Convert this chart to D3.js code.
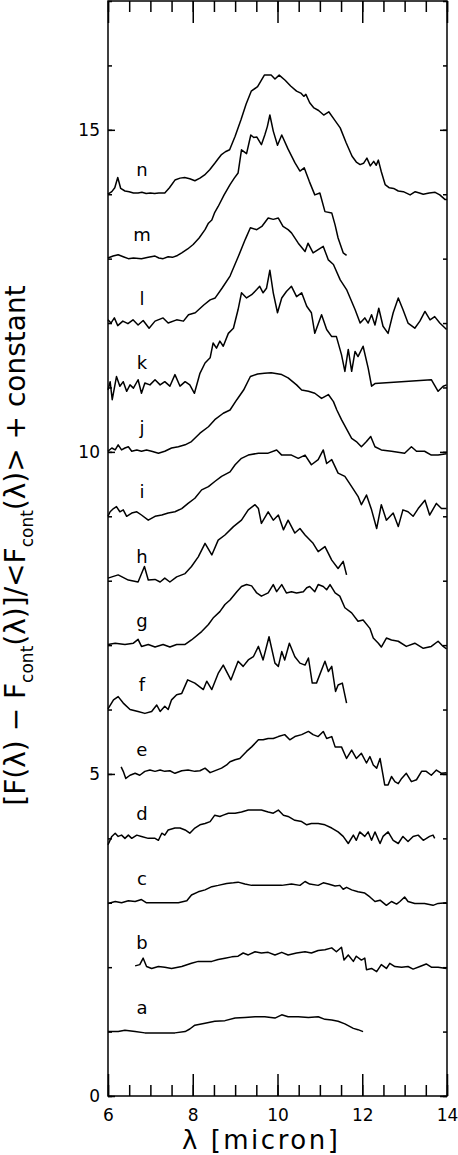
<!DOCTYPE html>
<html>
<head>
<meta charset="utf-8">
<script src="https://cdn.jsdelivr.net/npm/d3@7"></script>
<style>
  body { margin: 0; background: #fff; }
  svg text { font-family: "DejaVu Sans", sans-serif; fill: #000; }
</style>
</head>
<body>
<svg id="chart" width="458" height="1155"></svg>
<script>
// each spectrum: [wavelength (micron), flux above its own baseline]
const specA = [[6.00,0.00],[6.24,0.00],[6.40,0.02],[6.64,0.00],[6.87,-0.02],[7.11,-0.02],[7.34,-0.02],[7.58,-0.02],[7.82,0.00],[7.93,0.04],[8.05,0.10],[8.29,0.13],[8.52,0.16],[8.76,0.17],[9.00,0.21],[9.23,0.22],[9.47,0.23],[9.70,0.23],[9.94,0.21],[10.10,0.26],[10.25,0.23],[10.49,0.23],[10.73,0.22],[10.96,0.23],[11.12,0.19],[11.28,0.18],[11.43,0.16],[11.59,0.12],[11.79,0.05],[11.90,0.03],[12.02,0.00]];
const specB = [[6.64,0.02],[6.75,0.04],[6.83,0.14],[6.91,0.01],[7.03,-0.02],[7.19,0.01],[7.34,0.00],[7.50,-0.02],[7.74,0.01],[7.97,0.06],[8.13,0.09],[8.29,0.09],[8.45,0.09],[8.60,0.12],[8.76,0.14],[8.92,0.16],[9.07,0.17],[9.19,0.22],[9.31,0.19],[9.47,0.24],[9.62,0.22],[9.78,0.23],[9.94,0.19],[10.10,0.23],[10.25,0.19],[10.45,0.22],[10.65,0.24],[10.80,0.22],[10.96,0.26],[11.12,0.27],[11.28,0.30],[11.39,0.24],[11.51,0.31],[11.57,0.11],[11.67,0.19],[11.79,0.09],[11.86,0.17],[11.98,0.11],[12.06,0.14],[12.10,-0.04],[12.22,-0.02],[12.34,-0.07],[12.45,0.04],[12.57,-0.02],[12.65,0.06],[12.77,0.01],[12.93,0.00],[13.08,0.01],[13.20,-0.03],[13.36,0.01],[13.51,0.05],[13.63,0.00],[13.79,0.00],[13.99,-0.02]];
const specC = [[6.00,-0.01],[6.17,0.02],[6.32,0.00],[6.48,0.03],[6.64,0.02],[6.79,0.05],[6.91,0.00],[7.11,0.00],[7.34,0.00],[7.66,0.00],[7.86,0.03],[7.97,0.12],[8.13,0.17],[8.29,0.20],[8.45,0.25],[8.60,0.27],[8.80,0.30],[8.96,0.31],[9.07,0.32],[9.23,0.29],[9.39,0.27],[9.62,0.27],[9.86,0.27],[10.10,0.27],[10.33,0.29],[10.53,0.27],[10.65,0.33],[10.76,0.29],[10.96,0.27],[11.08,0.31],[11.20,0.29],[11.36,0.26],[11.47,0.27],[11.55,0.21],[11.63,0.24],[11.75,0.20],[11.90,0.17],[12.06,0.15],[12.18,0.09],[12.30,0.02],[12.42,0.04],[12.57,-0.04],[12.69,0.02],[12.81,-0.02],[12.89,0.02],[13.00,0.09],[13.08,0.02],[13.24,-0.01],[13.47,-0.01],[13.67,-0.04],[13.79,-0.01],[13.99,0.00]];
const specD = [[6.00,-0.10],[6.09,0.03],[6.17,0.08],[6.24,0.03],[6.32,0.05],[6.40,0.00],[6.48,0.05],[6.56,0.00],[6.68,0.05],[6.79,0.03],[6.95,0.00],[7.11,0.00],[7.19,-0.03],[7.27,0.08],[7.34,0.05],[7.42,0.13],[7.58,0.16],[7.70,0.16],[7.82,0.13],[7.93,0.08],[8.05,0.16],[8.17,0.21],[8.29,0.23],[8.41,0.26],[8.52,0.36],[8.64,0.34],[8.72,0.36],[8.84,0.39],[9.00,0.39],[9.15,0.41],[9.31,0.44],[9.47,0.44],[9.62,0.44],[9.78,0.41],[9.90,0.39],[10.02,0.44],[10.14,0.36],[10.25,0.34],[10.41,0.28],[10.57,0.26],[10.69,0.21],[10.80,0.23],[10.96,0.23],[11.12,0.21],[11.28,0.16],[11.43,0.10],[11.55,0.03],[11.67,-0.08],[11.79,0.05],[11.86,-0.03],[11.94,0.10],[12.06,0.03],[12.14,0.10],[12.22,-0.03],[12.30,0.10],[12.42,-0.08],[12.49,0.03],[12.61,0.10],[12.73,-0.03],[12.85,-0.08],[12.96,0.03],[13.08,-0.05],[13.20,0.03],[13.32,0.05],[13.44,-0.03],[13.59,0.03],[13.67,0.05],[13.71,0.00]];
const specE = [[6.31,0.11],[6.36,0.04],[6.42,-0.07],[6.52,-0.02],[6.64,0.01],[6.75,-0.02],[6.87,0.04],[6.99,0.06],[7.11,0.04],[7.23,0.06],[7.34,0.04],[7.46,0.05],[7.58,0.01],[7.74,0.05],[7.89,0.06],[8.05,0.04],[8.17,0.05],[8.29,0.09],[8.41,0.02],[8.56,0.06],[8.68,0.09],[8.80,0.14],[8.88,0.19],[9.00,0.22],[9.11,0.24],[9.27,0.35],[9.39,0.42],[9.55,0.53],[9.66,0.53],[9.78,0.55],[9.90,0.55],[10.02,0.58],[10.17,0.61],[10.29,0.53],[10.41,0.58],[10.57,0.61],[10.73,0.66],[10.84,0.61],[10.96,0.58],[11.08,0.66],[11.16,0.55],[11.28,0.58],[11.36,0.42],[11.51,0.42],[11.63,0.24],[11.75,0.37],[11.86,0.24],[11.98,0.32],[12.10,0.17],[12.18,0.27],[12.26,0.14],[12.34,0.09],[12.42,0.24],[12.49,-0.02],[12.53,-0.17],[12.61,-0.17],[12.69,-0.04],[12.77,-0.12],[12.85,-0.15],[12.93,-0.07],[13.04,0.01],[13.16,-0.12],[13.28,-0.09],[13.40,0.04],[13.51,0.04],[13.63,-0.02],[13.75,0.06],[13.87,0.01],[13.99,0.02]];
const specF = [[6.00,0.01],[6.13,0.15],[6.24,0.20],[6.36,0.10],[6.52,0.00],[6.71,-0.03],[6.87,-0.06],[7.03,-0.03],[7.15,0.07],[7.23,-0.03],[7.34,0.05],[7.42,0.00],[7.50,0.15],[7.62,0.23],[7.74,0.25],[7.88,0.46],[8.05,0.41],[8.25,0.31],[8.33,0.44],[8.45,0.31],[8.60,0.56],[8.72,0.69],[8.90,0.46],[9.07,0.75],[9.19,0.67],[9.31,0.77],[9.43,0.82],[9.55,0.98],[9.66,0.77],[9.80,1.13],[9.94,0.72],[10.02,0.67],[10.10,0.90],[10.17,0.77],[10.28,1.03],[10.41,0.82],[10.53,0.72],[10.65,0.69],[10.73,0.80],[10.82,0.41],[10.92,0.41],[11.12,0.75],[11.20,0.59],[11.28,0.67],[11.37,0.28],[11.43,0.38],[11.53,0.41],[11.63,0.10]];
const specG = [[6.00,0.01],[6.17,0.03],[6.40,0.01],[6.60,0.03],[6.71,0.09],[6.79,-0.02],[6.95,0.01],[7.11,-0.03],[7.30,0.01],[7.46,-0.03],[7.62,0.01],[7.82,0.01],[7.97,0.08],[8.21,0.21],[8.37,0.32],[8.48,0.42],[8.64,0.52],[8.76,0.63],[8.88,0.70],[9.04,0.83],[9.15,0.91],[9.27,0.94],[9.39,0.92],[9.51,0.81],[9.62,0.76],[9.78,0.81],[9.90,0.94],[9.98,0.83],[10.10,0.94],[10.21,0.81],[10.33,0.83],[10.45,0.81],[10.61,0.83],[10.69,0.89],[10.76,0.91],[10.88,0.83],[10.96,0.94],[11.08,0.91],[11.16,0.86],[11.24,0.94],[11.36,0.81],[11.47,0.76],[11.59,0.58],[11.75,0.50],[11.90,0.37],[12.02,0.39],[12.18,0.26],[12.26,0.11],[12.38,0.03],[12.45,-0.03],[12.57,0.11],[12.69,0.08],[12.85,0.06],[13.04,-0.02],[13.24,0.03],[13.44,-0.05],[13.63,-0.02],[13.79,0.06],[13.91,-0.02],[13.99,-0.06]];
const specH = [[6.00,0.04],[6.24,0.09],[6.48,0.01],[6.71,-0.02],[6.86,0.22],[6.95,0.01],[7.11,0.02],[7.23,-0.02],[7.34,0.04],[7.46,-0.02],[7.62,0.06],[7.82,0.11],[7.97,0.22],[8.13,0.37],[8.29,0.58],[8.45,0.40],[8.60,0.63],[8.76,0.71],[8.96,0.84],[9.15,0.94],[9.31,1.10],[9.47,1.18],[9.55,1.12],[9.62,0.89],[9.78,1.07],[9.90,0.94],[10.02,1.02],[10.14,0.79],[10.25,0.94],[10.41,0.74],[10.53,0.81],[10.65,0.71],[10.84,0.58],[10.96,0.45],[11.12,0.53],[11.28,0.32],[11.43,0.19],[11.55,0.30],[11.63,0.09]];
const specI = [[6.00,0.00],[6.05,0.07],[6.13,0.12],[6.20,0.15],[6.28,0.07],[6.36,0.10],[6.44,0.00],[6.56,0.05],[6.68,0.07],[6.79,0.02],[6.95,-0.06],[7.11,0.00],[7.27,0.02],[7.42,0.05],[7.58,0.07],[7.74,0.12],[7.89,0.20],[8.05,0.28],[8.21,0.41],[8.37,0.46],[8.52,0.54],[8.68,0.62],[8.88,0.69],[9.00,0.80],[9.15,0.90],[9.31,0.95],[9.55,0.98],[9.78,0.98],[9.98,1.03],[10.10,0.95],[10.33,0.95],[10.49,0.90],[10.65,0.95],[10.80,0.80],[10.96,0.88],[11.08,1.03],[11.16,0.82],[11.28,0.88],[11.43,0.67],[11.59,0.62],[11.75,0.46],[11.90,0.31],[11.98,0.18],[12.10,0.33],[12.22,0.10],[12.34,-0.19],[12.45,0.18],[12.57,-0.06],[12.73,0.05],[12.85,-0.16],[12.96,0.10],[13.08,0.07],[13.20,0.00],[13.32,0.12],[13.48,0.25],[13.59,0.02],[13.75,0.20],[13.87,0.12],[13.99,0.12]];
const specJ = [[6.00,0.01],[6.09,0.06],[6.17,0.03],[6.24,0.11],[6.32,0.03],[6.40,0.06],[6.48,0.08],[6.56,0.01],[6.68,0.03],[6.79,0.01],[6.91,0.03],[7.03,0.01],[7.19,-0.02],[7.34,0.01],[7.50,0.06],[7.66,0.08],[7.82,0.11],[7.97,0.16],[8.17,0.29],[8.37,0.39],[8.52,0.50],[8.72,0.60],[8.88,0.65],[9.04,0.81],[9.20,0.96],[9.36,1.17],[9.53,1.21],[9.69,1.22],[9.85,1.23],[10.10,1.20],[10.25,1.15],[10.45,1.04],[10.57,0.96],[10.73,0.94],[10.88,0.91],[11.04,0.83],[11.20,0.89],[11.32,0.78],[11.40,0.65],[11.51,0.50],[11.75,0.21],[11.86,0.16],[11.98,0.08],[12.10,0.16],[12.20,0.24],[12.30,0.08],[12.45,0.03],[12.69,0.01],[13.00,-0.02],[13.16,0.08],[13.28,0.01],[13.47,0.01],[13.63,-0.05],[13.79,-0.05],[13.99,-0.03]];
const specK = [[6.00,-0.04],[6.05,0.09],[6.10,-0.19],[6.20,0.17],[6.28,0.02],[6.36,0.09],[6.44,-0.06],[6.52,0.04],[6.60,-0.01],[6.71,0.12],[6.79,-0.09],[6.87,0.07],[6.99,0.04],[7.11,0.12],[7.23,0.04],[7.34,0.09],[7.46,0.02],[7.58,0.20],[7.70,0.02],[7.82,0.09],[7.93,0.04],[8.04,-0.09],[8.17,0.22],[8.29,0.38],[8.41,0.46],[8.48,0.69],[8.56,0.61],[8.64,0.72],[8.72,0.64],[8.84,0.84],[8.96,0.92],[9.07,1.21],[9.15,1.47],[9.27,1.39],[9.39,1.44],[9.51,1.52],[9.58,1.57],[9.66,1.47],[9.74,1.54],[9.82,1.82],[9.90,1.47],[10.00,1.16],[10.10,1.39],[10.21,1.49],[10.33,1.57],[10.45,1.41],[10.57,1.47],[10.69,1.26],[10.80,1.16],[10.88,0.84],[11.04,1.13],[11.16,0.90],[11.28,0.79],[11.39,0.79],[11.51,0.51],[11.59,0.25],[11.67,0.59],[11.75,0.25],[11.83,0.56],[11.90,0.48],[12.02,0.64],[12.14,0.30],[12.22,0.02],[12.30,0.06],[13.63,0.12],[13.79,-0.06],[13.91,0.02],[13.99,0.04]];
const specL = [[6.00,0.05],[6.07,0.00],[6.15,0.08],[6.23,-0.04],[6.35,0.03],[6.47,-0.01],[6.59,0.05],[6.71,-0.03],[6.83,0.04],[6.97,-0.08],[7.11,0.03],[7.30,0.08],[7.42,0.00],[7.62,0.05],[7.78,0.03],[7.90,0.13],[8.06,0.16],[8.26,0.28],[8.41,0.36],[8.53,0.39],[8.69,0.54],[8.88,0.73],[9.08,1.04],[9.24,1.30],[9.36,1.48],[9.51,1.45],[9.63,1.50],[9.78,1.63],[9.90,1.61],[10.02,1.63],[10.13,1.50],[10.25,1.45],[10.33,1.40],[10.49,1.24],[10.65,1.11],[10.72,1.24],[10.84,1.09],[10.96,1.14],[11.08,1.19],[11.20,0.98],[11.32,0.91],[11.48,0.67],[11.63,0.52],[11.83,0.21],[11.95,0.00],[12.06,0.08],[12.14,0.00],[12.22,0.13],[12.30,-0.03],[12.39,0.23],[12.49,-0.05],[12.61,-0.16],[12.73,0.16],[12.85,0.39],[12.96,0.21],[13.08,0.00],[13.24,-0.08],[13.36,0.03],[13.48,0.18],[13.60,0.05],[13.71,0.10],[13.83,0.00],[13.99,-0.10]];
const specM = [[6.00,0.01],[6.12,0.04],[6.24,0.06],[6.36,0.03],[6.48,0.00],[6.60,0.01],[6.79,0.00],[6.95,0.02],[7.11,0.04],[7.20,0.01],[7.30,0.00],[7.42,0.03],[7.52,0.02],[7.64,0.05],[7.74,0.09],[7.88,0.15],[8.01,0.22],[8.15,0.32],[8.29,0.45],[8.37,0.55],[8.45,0.60],[8.52,0.72],[8.60,0.81],[8.74,0.99],[8.88,1.15],[8.98,1.25],[9.07,1.33],[9.15,1.69],[9.27,1.63],[9.37,1.92],[9.44,1.88],[9.51,1.89],[9.62,1.77],[9.70,1.92],[9.76,2.05],[9.82,2.23],[9.90,1.98],[10.00,1.76],[10.10,1.92],[10.25,1.70],[10.41,1.49],[10.53,1.36],[10.63,1.41],[10.75,1.20],[10.88,0.99],[11.00,1.02],[11.12,0.73],[11.28,0.71],[11.36,0.52],[11.43,0.32],[11.55,0.09],[11.63,0.05]];
const specN = [[6.00,0.00],[6.09,0.04],[6.16,0.10],[6.23,0.26],[6.30,0.09],[6.40,0.05],[6.50,0.04],[6.60,0.02],[6.71,0.02],[6.80,0.03],[6.90,0.01],[7.00,0.02],[7.10,0.01],[7.20,0.02],[7.34,0.02],[7.45,0.10],[7.58,0.22],[7.70,0.25],[7.81,0.26],[7.93,0.24],[8.05,0.21],[8.17,0.25],[8.28,0.30],[8.40,0.38],[8.52,0.48],[8.60,0.55],[8.67,0.61],[8.77,0.66],[8.87,0.69],[9.00,0.90],[9.14,1.16],[9.26,1.40],[9.38,1.60],[9.53,1.67],[9.60,1.75],[9.69,1.85],[9.85,1.85],[9.94,1.79],[10.04,1.85],[10.18,1.77],[10.31,1.68],[10.45,1.60],[10.55,1.57],[10.62,1.52],[10.67,1.55],[10.76,1.42],[10.86,1.34],[10.97,1.30],[11.09,1.23],[11.21,1.28],[11.35,1.15],[11.48,1.03],[11.62,0.80],[11.76,0.59],[11.86,0.50],[11.95,0.46],[12.03,0.48],[12.11,0.56],[12.19,0.44],[12.27,0.51],[12.33,0.45],[12.38,0.53],[12.45,0.35],[12.54,0.15],[12.64,0.10],[12.74,0.09],[12.85,0.05],[12.97,0.04],[13.13,-0.01],[13.25,0.04],[13.35,0.02],[13.44,0.00],[13.58,0.02],[13.72,0.03],[13.83,-0.01],[13.95,-0.08],[14.00,-0.08]];

const spectra = [specA, specB, specC, specD, specE, specF, specG, specH, specI, specJ, specK, specL, specM, specN];
const labels = ["a", "b", "c", "d", "e", "f", "g", "h", "i", "j", "k", "l", "m", "n"];
const offsets = [1, 2, 3, 4, 5, 6, 7, 8, 9, 10, 11, 12, 13, 14];
const xTicks = [6, 8, 10, 12, 14];
const yTicks = [0, 5, 10, 15];

const margin = { top: 1, right: 11, bottom: 59, left: 108 },
  width = 458 - margin.left - margin.right,
  height = 1155 - margin.top - margin.bottom;

const svg = d3.select("#chart");
const g = svg.append("g")
  .attr("transform", "translate(" + margin.left + "," + margin.top + ")");

const x = d3.scaleLinear().domain([6, 14]).range([0, width]);
const y = d3.scaleLinear().domain([0, 17]).range([height, 0]);

const xMinor = d3.range(6, 14.001, 0.5);
const yMinor = d3.range(0, 17.001, 1);

function styleAxis(sel) {
  sel.select(".domain").remove();
  sel.selectAll("line").attr("stroke", "#000").attr("stroke-width", 1.5);
  sel.selectAll("text").style("font-size", "17px").attr("fill", "#000");
}

// bottom
g.append("g").attr("transform", "translate(0," + height + ")")
  .call(d3.axisBottom(x).tickValues(xMinor).tickSize(-11).tickFormat(""))
  .call(styleAxis);
g.append("g").attr("transform", "translate(0," + height + ")")
  .call(d3.axisBottom(x).tickValues(xTicks).tickSizeInner(-22).tickSizeOuter(0)
    .tickPadding(13).tickFormat(d3.format("d")))
  .call(styleAxis);
// top
g.append("g")
  .call(d3.axisTop(x).tickValues(xMinor).tickSize(-11).tickFormat(""))
  .call(styleAxis);
g.append("g")
  .call(d3.axisTop(x).tickValues(xTicks).tickSize(-22).tickFormat(""))
  .call(styleAxis);
// left
g.append("g")
  .call(d3.axisLeft(y).tickValues(yMinor).tickSize(-4).tickFormat(""))
  .call(styleAxis);
g.append("g")
  .call(d3.axisLeft(y).tickValues(yTicks).tickSizeInner(-7).tickSizeOuter(0)
    .tickPadding(8).tickFormat(d3.format("d")))
  .call(styleAxis);
// right
g.append("g").attr("transform", "translate(" + width + ",0)")
  .call(d3.axisRight(y).tickValues(yMinor).tickSize(-4).tickFormat(""))
  .call(styleAxis);
g.append("g").attr("transform", "translate(" + width + ",0)")
  .call(d3.axisRight(y).tickValues(yTicks).tickSize(-7).tickFormat(""))
  .call(styleAxis);

// frame
g.append("rect")
  .attr("x", 0).attr("y", 0)
  .attr("width", width).attr("height", height)
  .attr("fill", "none").attr("stroke", "#000").attr("stroke-width", 1.5);

// spectra
const line = d3.line()
  .x((d) => x(d[0]))
  .y((d) => y(d[1]));

spectra.forEach(function (spec, i) {
  const off = offsets[i];
  g.append("path")
    .datum(spec.map((p) => [p[0], p[1] + off]))
    .attr("fill", "none")
    .attr("stroke", "#000")
    .attr("stroke-width", 1.5)
    .attr("stroke-linejoin", "round")
    .attr("d", line);

  g.append("text")
    .attr("x", x(6.8))
    .attr("y", y(off + 0.28))
    .attr("text-anchor", "middle")
    .style("font-size", "18px")
    .text(labels[i]);
});

// x title
svg.append("text")
  .attr("x", 182)
  .attr("y", 1149)
  .style("font-size", "26px")
  .style("letter-spacing", "2.5px")
  .text("λ [micron]");

// y title, centred on the plot height
const yt = svg.append("text")
  .attr("transform", "translate(25," + (margin.top + height / 2 - 3) + ") rotate(-90)")
  .attr("text-anchor", "middle")
  .style("font-size", "28px");
yt.append("tspan").text("[F(λ) − F");
yt.append("tspan").attr("dy", 8).style("font-size", "17px").text("cont");
yt.append("tspan").attr("dy", -8).text("(λ)]/<F");
yt.append("tspan").attr("dy", 8).style("font-size", "17px").text("cont");
yt.append("tspan").attr("dy", -8).text("(λ)> + constant");
</script>
</body>
</html>
